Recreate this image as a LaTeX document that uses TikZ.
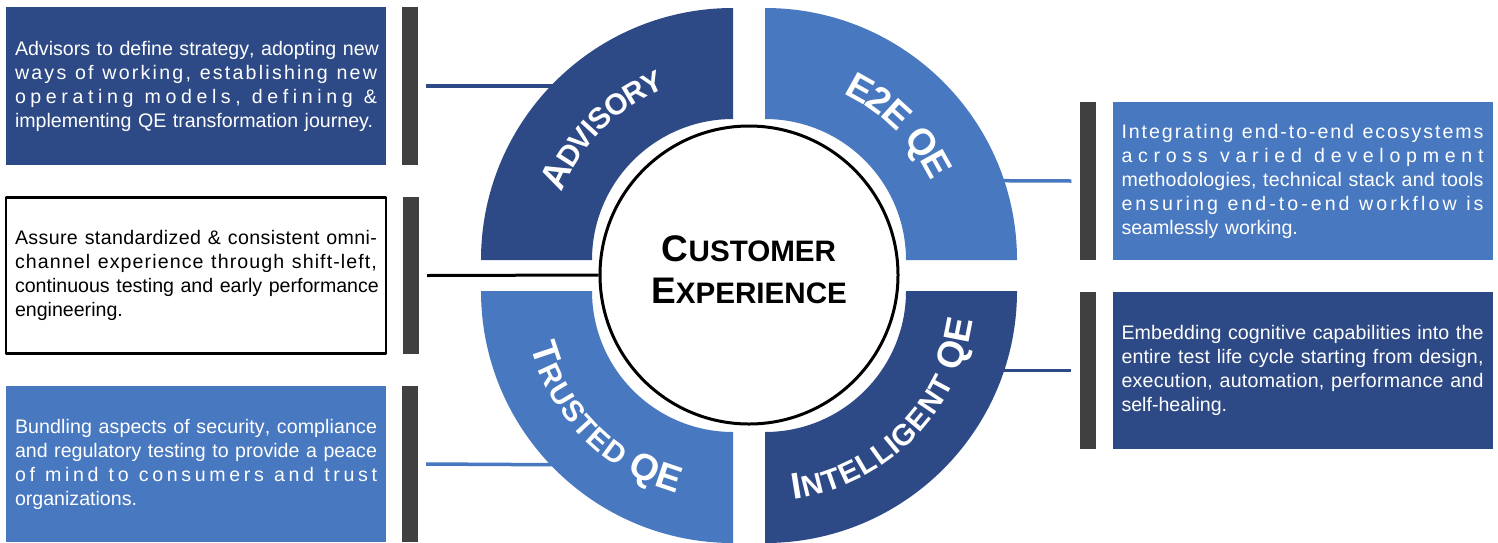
\documentclass[tikz,border=0pt]{standalone}
\usepackage{fontspec}
\setmainfont{Liberation Sans}
\usetikzlibrary{positioning,decorations.text}
\definecolor{qedark}{HTML}{2E4A86}
\definecolor{qelight}{HTML}{4878BF}
\definecolor{qebar}{HTML}{404040}
\newlength\spreadwd \setlength\spreadwd{181pt}
\newcommand\boxfont{\fontsize{9.8}{12}\selectfont}
\newcommand\labbig{\bfseries\fontsize{18.5}{21}\selectfont}
\newcommand\labsc{\bfseries\fontsize{14.8}{21}\selectfont}
% one line of a box, letters spread to the full width
\ExplSyntaxOn
\seq_new:N \l__spr_words_seq
\NewDocumentCommand \spreadline { m }
  {
    \seq_set_split:Nnn \l__spr_words_seq { ~ } { #1 }
    \noindent
    \hbox_to_wd:nn { \spreadwd }
      {
        \hskip 0pt plus -1fil
        \seq_map_inline:Nn \l__spr_words_seq
          { \tl_map_inline:nn { ##1 } { \hfil ####1 } \c_space_tl }
        \unskip
      }
    \par
  }
\ExplSyntaxOff
\begin{document}
\begin{tikzpicture}[x=0.5pt, y=0.5pt, line join=round,
  infobox/.style={rectangle, minimum width=190pt, text width=181pt, inner xsep=4.5pt, align=left, font=\boxfont},
  sidebar/.style={rectangle, fill=qebar, minimum width=8pt, inner sep=0pt, node distance=7.5pt},
  link/.style={line width=1.75pt},
  ringtext/.style={decorate, decoration={text along path, text align=center, text color=white, raise=-6pt, text={#1}}}]
\useasboundingbox (0,0) rectangle (1498,-542);
% boxes on the left
\node[infobox, fill=qedark, text=white, minimum height=79pt] (advbox) at (196,-86)
  {\spreadline{Advisors to define strategy, adopting new}\spreadline{ways of working, establishing new}\spreadline{operating models, defining \&}\noindent implementing QE transformation journey.};
\node[infobox, draw, line width=1.4pt, minimum height=78pt] (omnibox) at (196,-275.5)
  {\spreadline{Assure standardized \& consistent omni-}\spreadline{channel experience through shift-left,}\spreadline{continuous testing and early performance}\noindent engineering.};
\node[infobox, fill=qelight, text=white, minimum height=78pt] (trustbox) at (196,-464)
  {\spreadline{Bundling aspects of security, compliance}\spreadline{and regulatory testing to provide a peace}\spreadline{of mind to consumers and trust}\noindent organizations.};
\node[sidebar, minimum height=79pt, right=of advbox] (advbar) {};
\node[sidebar, minimum height=78.5pt, right=of omnibox] (omnibar) {};
\node[sidebar, minimum height=78pt, right=of trustbox] (trustbar) {};
% boxes on the right
\node[infobox, fill=qelight, text=white, minimum height=79pt] (e2ebox) at (1302.5,-181)
  {\spreadline{Integrating end-to-end ecosystems}\spreadline{across varied development}\spreadline{methodologies, technical stack and tools}\spreadline{ensuring end-to-end workflow is}\noindent seamlessly working.};
\node[infobox, fill=qedark, text=white, minimum height=78.5pt] (intbox) at (1302.5,-370.5)
  {\spreadline{Embedding cognitive capabilities into the}\spreadline{entire test life cycle starting from design,}\spreadline{execution, automation, performance and}\noindent self-healing.};
\node[sidebar, minimum height=79pt, left=8pt of e2ebox] (e2ebar) {};
\node[sidebar, minimum height=78.5pt, left=8pt of intbox] (intbar) {};
% centre
\node[circle, draw, line width=1.5pt, fill=white, minimum size=149pt] (core) at (749,-275) {};
\node[align=center, font=\labbig] (corelabel) at (749,-270)
  {\labbig C\labsc USTOMER\\\labbig E\labsc XPERIENCE};
\coordinate (advin) at (600,-86);
\coordinate (trustin) at (600,-465);
\coordinate (e2ein) at (950,-180.5);
\coordinate (intin) at (950,-370.5);
\draw[link, qedark] ([xshift=4pt]advbar.east) -- (advin);
\draw[link, black, line width=1.5pt] ([xshift=4pt]omnibar.east) -- (core.west);
\draw[link, qelight] ([xshift=4pt]trustbar.east) -- (trustin);
\draw[link, qelight] (e2ein) -- ([xshift=-4pt]e2ebar.west);
\draw[link, qedark] (intin) -- ([xshift=-4pt]intbar.west);
% ring
\foreach \cx/\cy/\a/\col in {733/-260/90/qedark, 765/-260/0/qelight, 733/-291/180/qelight, 765/-291/270/qedark}
  \fill[\col, shift={(\cx,\cy)}] (\a:141) arc[start angle=\a, end angle=\a+90, radius=141]
    -- (\a+90:252) arc[start angle=\a+90, end angle=\a, radius=252] -- cycle;
\path[shift={(733,-260)}, ringtext={|\labbig|A|\labsc|DVISORY}]
  (180:196) arc[start angle=180, end angle=90, radius=196];
\path[shift={(765,-260)}, ringtext={|\labbig|E2E QE}]
  (90:196) arc[start angle=90, end angle=0, radius=196];
\path[shift={(733,-291)}, ringtext={|\labbig|T|\labsc|RUSTED |\labbig|QE}]
  (180:198) arc[start angle=180, end angle=270, radius=198];
\path[shift={(765,-291)}, ringtext={|\labbig|I|\labsc|NTELLIGENT |\labbig|QE}]
  (270:198) arc[start angle=270, end angle=360, radius=198];
\end{tikzpicture}
\end{document}
